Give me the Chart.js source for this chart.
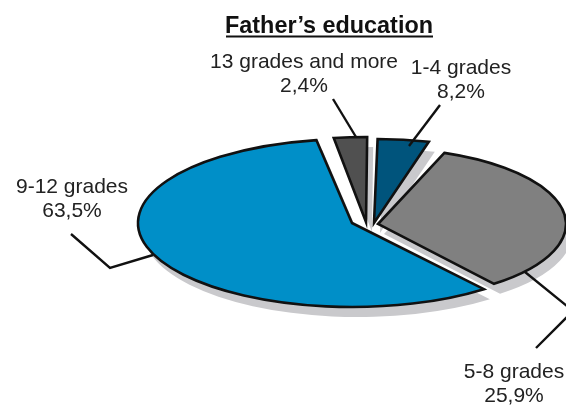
<!DOCTYPE html>
<html>
<head>
<meta charset="utf-8">
<title>Father's education</title>
<style>
    html, body { margin: 0; padding: 0; background: #fff; }
    canvas { display: block; }
</style>
</head>
<body>
<canvas id="pieChart" width="566" height="405"></canvas>
<script src="https://cdn.jsdelivr.net/npm/chart.js@4"></script>
<script>
// Data
const chartTitle = "Father\u2019s education";
const categories = ["13 grades and more", "1-4 grades", "5-8 grades", "9-12 grades"];
const percentages = [2.4, 8.2, 25.9, 63.5];
const colors = ["#505050", "#00547c", "#808080", "#008fc8"];

// The source is a hand-tilted 3D pie: every slice has its own pivot, radii and
// apparent sweep. Sweep = data sweep * sweepScale, turned by sliceTurn degrees.
const pivotX = [366, 374, 378, 352];
const pivotY = [222, 223, 224, 223];
const radiusX = [214, 214, 188, 214];
const radiusY = [85, 84, 76, 84];
const sweepScale = [1.04, 0.47, 1.30, 0.912];
const sliceTurn = [0, -7, 5, 9];
const firstAngle = -8.5;

const shadowDx = 6;
const shadowDy = 10;
const shadowColor = "#c9c9cc";
const outlineColor = "#111111";

// Label placement: one entry per category
const labelX = [304, 461, 514, 72];
const labelY = [68, 74, 378, 193];
const lineHeight = 24;
const leaderLines = [
    [[333, 99], [356, 137]],
    [[440, 105], [409, 146]],
    [[525, 272], [573, 311], [536, 348]],
    [[71, 234], [110, 268], [153, 255]]
];

function slicePath(ctx, arc) {
    ctx.beginPath();
    ctx.moveTo(arc.x, arc.y);
    ctx.arc(arc.x, arc.y, arc.outerRadius, arc.startAngle, arc.endAngle);
    ctx.closePath();
}

function enterSlice(ctx, arc, i, dx, dy) {
    ctx.save();
    ctx.translate(pivotX[i] + dx, pivotY[i] + dy);
    ctx.scale(radiusX[i] / arc.outerRadius, radiusY[i] / arc.outerRadius);
    ctx.translate(-arc.x, -arc.y);
}

const tiltedPie = {
    id: "tiltedPie",
    afterDatasetsUpdate: function(chart) {
        chart.getDatasetMeta(0).data.forEach(function(arc, i) {
            const mid = (arc.startAngle + arc.endAngle) / 2 + sliceTurn[i] * Math.PI / 180;
            const half = (arc.endAngle - arc.startAngle) / 2 * sweepScale[i];
            arc.startAngle = mid - half;
            arc.endAngle = mid + half;
            arc.circumference = half * 2;
        });
    },
    beforeDatasetsDraw: function(chart) {
        const ctx = chart.ctx;
        const arcs = chart.getDatasetMeta(0).data;

        // Shadows go under all of the slices
        arcs.forEach(function(arc, i) {
            enterSlice(ctx, arc, i, shadowDx, shadowDy);
            slicePath(ctx, arc);
            ctx.fillStyle = shadowColor;
            ctx.fill();
            ctx.restore();
        });

        arcs.forEach(function(arc, i) {
            enterSlice(ctx, arc, i, 0, 0);
            arc.draw(ctx);
            slicePath(ctx, arc);
            ctx.restore(); // stroke without the squeeze so the line stays even
            ctx.strokeStyle = outlineColor;
            ctx.lineWidth = 2.6;
            ctx.lineJoin = "miter";
            ctx.stroke();
        });
        return false;
    },
    afterDraw: function(chart) {
        const ctx = chart.ctx;
        ctx.save();

        // Title with its underline
        ctx.fillStyle = "#111111";
        ctx.textAlign = "center";
        ctx.textBaseline = "alphabetic";
        ctx.font = "bold 23.4px 'Liberation Sans'";
        ctx.fillText(chartTitle, 329, 33);
        ctx.fillRect(226, 35.5, 207, 2);

        // Leader lines
        ctx.strokeStyle = outlineColor;
        ctx.lineWidth = 2.4;
        leaderLines.forEach(function(points) {
            ctx.beginPath();
            points.forEach(function(p, j) {
                if (j === 0) ctx.moveTo(p[0], p[1]);
                else ctx.lineTo(p[0], p[1]);
            });
            ctx.stroke();
        });

        // Labels
        ctx.fillStyle = "#222222";
        ctx.font = "21px 'Liberation Sans'";
        categories.forEach(function(name, i) {
            ctx.fillText(name, labelX[i], labelY[i]);
            const text = String(percentages[i]).replace(".", ",") + "%";
            ctx.fillText(text, labelX[i], labelY[i] + lineHeight);
        });
        ctx.restore();
    }
};

new Chart(document.getElementById("pieChart"), {
    type: "pie",
    data: {
        labels: categories,
        datasets: [{
            data: percentages,
            backgroundColor: colors,
            borderWidth: 0
        }]
    },
    options: {
        responsive: false,
        animation: false,
        events: [],
        rotation: firstAngle,
        plugins: {
            legend: { display: false },
            tooltip: { enabled: false }
        }
    },
    plugins: [tiltedPie]
});
</script>
</body>
</html>
